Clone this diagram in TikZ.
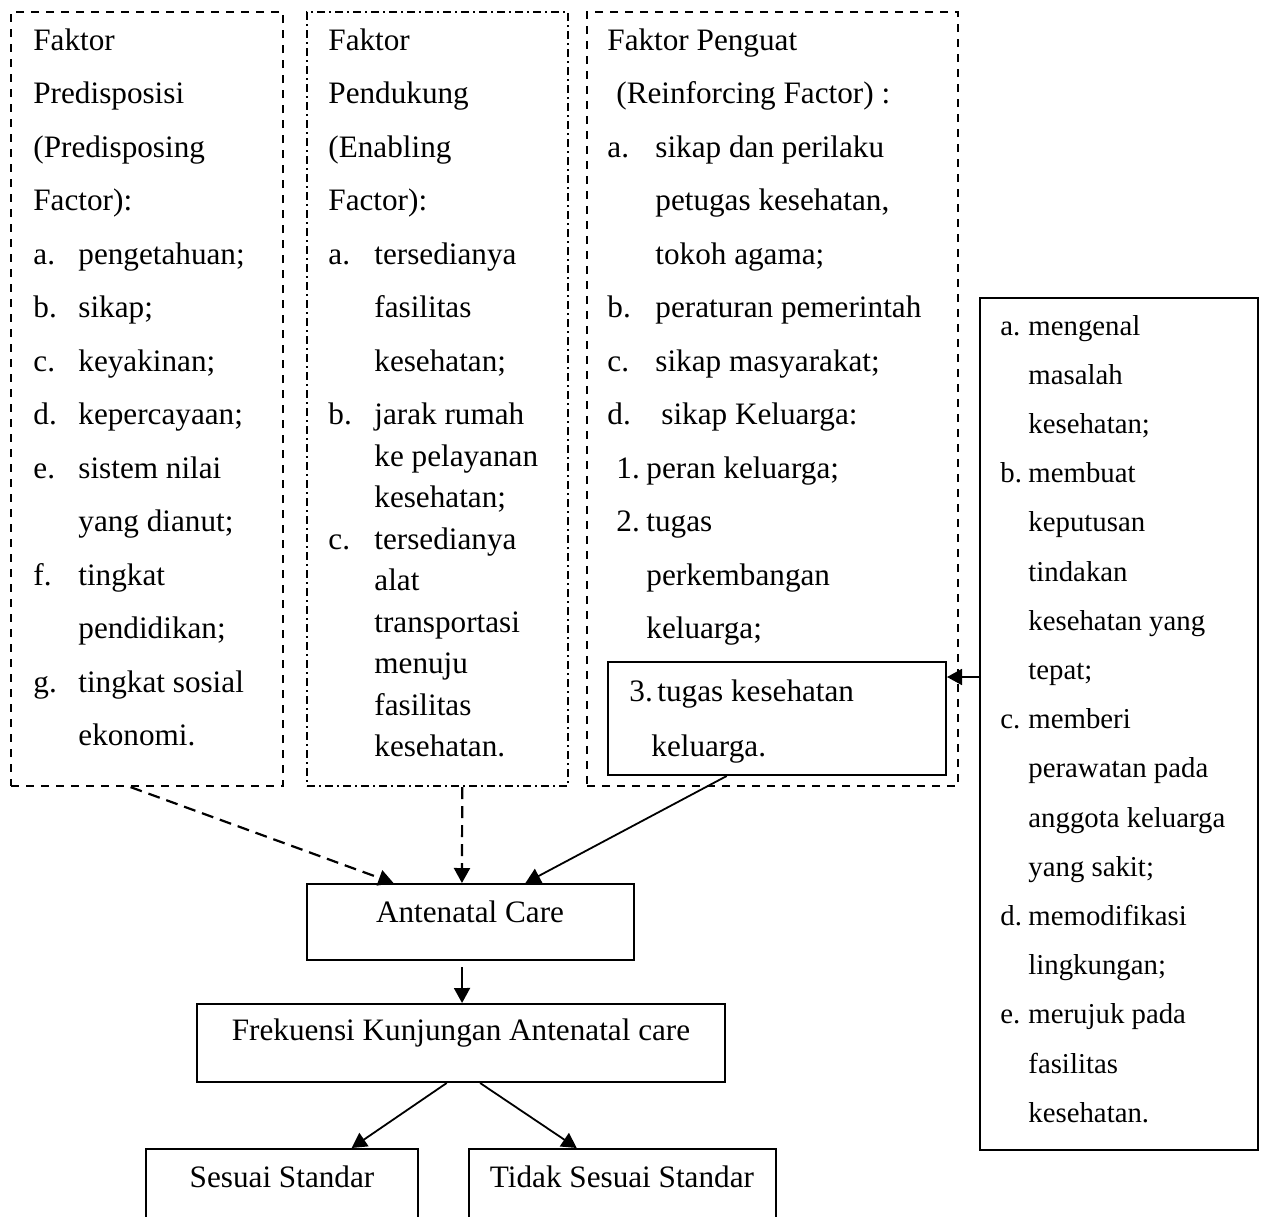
\documentclass[tikz,border=0pt]{standalone}
\usepackage{fontspec}
\setmainfont{Liberation Serif}
\usetikzlibrary{arrows.meta,calc}
\newcommand\mytxt[4]{\node[txt] (#1) at (#2,#3) {#4};}
\newcommand\mysm[4]{\node[txtsm] (#1) at (#2,#3) {#4};}
\begin{document}
\begin{tikzpicture}[x=0.5pt,y=-0.5pt,
  txt/.style={anchor=base west,inner sep=0pt,font=\fontsize{15.6}{18}\selectfont},
  txtsm/.style={anchor=base west,inner sep=0pt,font=\fontsize{14.4}{17}\selectfont},
  ctxt/.style={anchor=base,inner sep=0pt,font=\fontsize{15.6}{18}\selectfont},
  boxbase/.style={draw,line width=1pt,inner sep=0pt,rectangle},
  dashbox/.style={boxbase,line width=1.1pt,dash pattern=on 4pt off 3.5pt},
  dotbox/.style={boxbase,line width=1.1pt,dash pattern=on 4pt off 2pt on 1pt off 2pt},
  solidbox/.style={boxbase},
  arr/.style={line width=0.9pt,-{Triangle[length=7.5pt,width=8pt]}},
  dasharr/.style={arr,line width=1.1pt,dash pattern=on 6pt off 3.5pt}]
\useasboundingbox (0,0) rectangle (1263,1216);
\clip (0,0) rectangle (1263,1216);
% boxes
\node[dashbox,minimum width=136pt,minimum height=387pt] (pre) at (147,399) {};
\node[dotbox,minimum width=130.5pt,minimum height=387pt] (pen) at (437.5,399) {};
\node[dashbox,minimum width=185.5pt,minimum height=387pt] (pg) at (772.5,399) {};
\node[solidbox,minimum width=169pt,minimum height=56.5pt] (tks) at (777,718.5) {};
\node[solidbox,minimum width=139pt,minimum height=426pt] (fam) at (1119,724) {};
\node[solidbox,minimum width=163.5pt,minimum height=38pt] (anc) at (470.5,922) {};
\node[solidbox,minimum width=264pt,minimum height=39pt] (frek) at (461,1043) {};
\node[solidbox,minimum width=136pt,minimum height=41pt] (ses) at (282,1190) {};
\node[solidbox,minimum width=153.5pt,minimum height=41pt] (tid) at (622.5,1190) {};
% left box text
\mytxt{p1}{33}{50}{Faktor}
\mytxt{p2}{33}{103.5}{Predisposisi}
\mytxt{p3}{33}{157}{(Predisposing}
\mytxt{p4}{33}{210.5}{Factor):}
\mytxt{p5a}{33}{264}{a.}\mytxt{p5}{78}{264}{pengetahuan;}
\mytxt{p6a}{33}{317.5}{b.}\mytxt{p6}{78}{317.5}{sikap;}
\mytxt{p7a}{33}{371}{c.}\mytxt{p7}{78}{371}{keyakinan;}
\mytxt{p8a}{33}{424.5}{d.}\mytxt{p8}{78}{424.5}{kepercayaan;}
\mytxt{p9a}{33}{478}{e.}\mytxt{p9}{78}{478}{sistem nilai}
\mytxt{p10}{78}{531.5}{yang dianut;}
\mytxt{p11a}{33}{585}{f.}\mytxt{p11}{78}{585}{tingkat}
\mytxt{p12}{78}{638.5}{pendidikan;}
\mytxt{p13a}{33}{692}{g.}\mytxt{p13}{78}{692}{tingkat sosial}
\mytxt{p14}{78}{745.5}{ekonomi.}
% middle box text
\mytxt{e1}{328}{50}{Faktor}
\mytxt{e2}{328}{103.5}{Pendukung}
\mytxt{e3}{328}{157}{(Enabling}
\mytxt{e4}{328}{210.5}{Factor):}
\mytxt{e5a}{328}{264}{a.}\mytxt{e5}{374}{264}{tersedianya}
\mytxt{e6}{374}{317.5}{fasilitas}
\mytxt{e7}{374}{371}{kesehatan;}
\mytxt{e8a}{328}{424.5}{b.}\mytxt{e8}{374}{424.5}{jarak rumah}
\mytxt{e9}{374}{466}{ke pelayanan}
\mytxt{e10}{374}{507.5}{kesehatan;}
\mytxt{e11a}{328}{549}{c.}\mytxt{e11}{374}{549}{tersedianya}
\mytxt{e12}{374}{590.5}{alat}
\mytxt{e13}{374}{632}{transportasi}
\mytxt{e14}{374}{673.5}{menuju}
\mytxt{e15}{374}{715}{fasilitas}
\mytxt{e16}{374}{756.5}{kesehatan.}
% right dashed box text
\mytxt{r1}{607}{50}{Faktor Penguat}
\mytxt{r2}{616}{103.5}{(Reinforcing Factor) :}
\mytxt{r3a}{607}{157}{a.}\mytxt{r3}{655}{157}{sikap dan perilaku}
\mytxt{r4}{655}{210.5}{petugas kesehatan,}
\mytxt{r5}{655}{264}{tokoh agama;}
\mytxt{r6a}{607}{317.5}{b.}\mytxt{r6}{655}{317.5}{peraturan pemerintah}
\mytxt{r7a}{607}{371}{c.}\mytxt{r7}{655}{371}{sikap masyarakat;}
\mytxt{r8a}{607}{424.5}{d.}\mytxt{r8}{661}{424.5}{sikap Keluarga:}
\mytxt{r9a}{616}{478}{1.}\mytxt{r9}{646}{478}{peran keluarga;}
\mytxt{r10a}{616}{531.5}{2.}\mytxt{r10}{646}{531.5}{tugas}
\mytxt{r11}{646}{585}{perkembangan}
\mytxt{r12}{646}{638.5}{keluarga;}
\mytxt{r13a}{629}{701}{3.}\mytxt{r13}{657}{701}{tugas kesehatan}
\mytxt{r14}{651}{756}{keluarga.}
% right solid box text
\mysm{f1a}{1000}{335}{a.}\mysm{f1}{1028}{335}{mengenal}
\mysm{f2}{1028}{384.2}{masalah}
\mysm{f3}{1028}{433.4}{kesehatan;}
\mysm{f4a}{1000}{482.6}{b.}\mysm{f4}{1028}{482.6}{membuat}
\mysm{f5}{1028}{531.8}{keputusan}
\mysm{f6}{1028}{581}{tindakan}
\mysm{f7}{1028}{630.2}{kesehatan yang}
\mysm{f8}{1028}{679.4}{tepat;}
\mysm{f9a}{1000}{728.6}{c.}\mysm{f9}{1028}{728.6}{memberi}
\mysm{f10}{1028}{777.8}{perawatan pada}
\mysm{f11}{1028}{827}{anggota keluarga}
\mysm{f12}{1028}{876.2}{yang sakit;}
\mysm{f13a}{1000}{925.4}{d.}\mysm{f13}{1028}{925.4}{memodifikasi}
\mysm{f14}{1028}{974.6}{lingkungan;}
\mysm{f15a}{1000}{1023.8}{e.}\mysm{f15}{1028}{1023.8}{merujuk pada}
\mysm{f16}{1028}{1073}{fasilitas}
\mysm{f17}{1028}{1122.2}{kesehatan.}
% centre texts
\node[ctxt] (ancT) at (470,922) {Antenatal Care};
\node[ctxt] (frekT) at (461,1040) {Frekuensi Kunjungan Antenatal care};
\node[ctxt] (sesT) at (282,1187) {Sesuai Standar};
\node[ctxt] (tidT) at (622,1187) {Tidak Sesuai Standar};
% connectors
\draw[dasharr] ($(pre.south west)!0.44!(pre.south east)$) -- ($(anc.north west)!0.266!(anc.north east)$);
\draw[dasharr] ($(pen.south west)!0.594!(pen.south east)$) -- ($(anc.north west)!0.474!(anc.north east)$);
\draw[arr] ($(tks.south west)!0.352!(tks.south east)$) -- ($(anc.north west)!0.667!(anc.north east)$);
\draw[arr] ($(anc.south west)!0.474!(anc.south east)+(0,6)$) -- ($(frek.north west)!0.502!(frek.north east)$);
\draw[arr] ($(frek.south west)!0.473!(frek.south east)$) -- ($(ses.north west)!0.754!(ses.north east)$);
\draw[arr] ($(frek.south west)!0.536!(frek.south east)$) -- ($(tid.north west)!0.352!(tid.north east)$);
\coordinate (ylev) at (0,677);
\draw[arr] (fam.west |- ylev) -- (tks.east |- ylev);
\end{tikzpicture}
\end{document}
